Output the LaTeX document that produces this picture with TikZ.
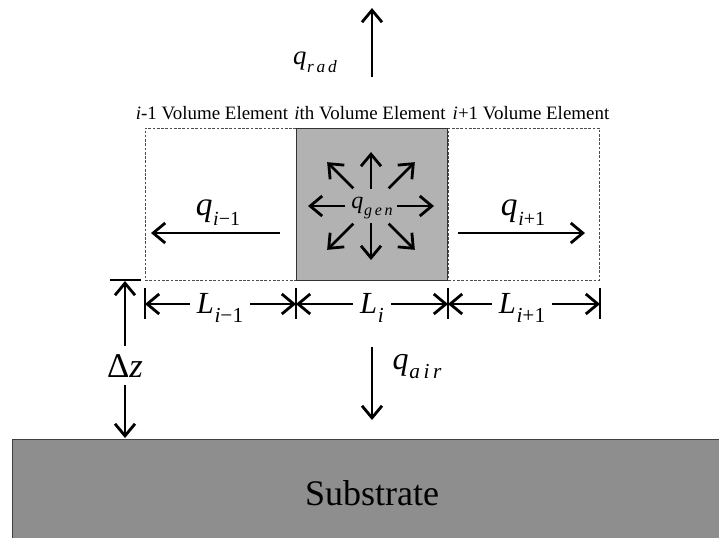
\documentclass[tikz,border=0pt]{standalone}
\usepackage{fontspec}
\setmainfont{Liberation Serif}
\usetikzlibrary{arrows.meta}
\definecolor{cellgray}{RGB}{178,178,178}
\definecolor{subgray}{RGB}{142,142,142}
\newcommand{\flux}[3][16]{\textit{#2}\kern0.5pt\raisebox{-0.3em}{\fontsize{#1}{#1}\selectfont #3}}
\tikzset{
  flow/.style={line width=2.1pt,-{Straight Barb[length=9pt,width=15pt]}},
  bar/.style={line width=2pt},
  cell/.style={minimum width=113.25pt,minimum height=114pt,inner sep=0pt,draw=black!80,line width=0.5pt},
  ghost/.style={cell,draw=black!70,dash pattern=on 2pt off 1.2pt},
  vlabel/.style={font=\fontsize{14.2}{16}\selectfont},
  big/.style={font=\fontsize{23}{26}\selectfont,anchor=base},
}
\begin{document}
\begin{tikzpicture}[x=0.75pt,y=-0.75pt]
\useasboundingbox (0,0) rectangle (719,537);
% substrate
\draw[fill=subgray,draw=black!75,line width=0.6pt] (12,439) rectangle (722,540);
\node[font=\fontsize{27}{30}\selectfont] (sub) at (372,493) {Substrate};
% volume elements
\node[ghost] (prev) at (220.5,204) {};
\node[ghost] (next) at (524,204) {};
\node[cell,fill=cellgray] (cur) at (372,204) {};
\node[vlabel] (lprev) at (212,113) {\textit{i}-1 Volume Element};
\node[vlabel] (lcur) at (370,113) {\textit{i}th Volume Element};
\node[vlabel] (lnext) at (531,113) {\textit{i}+1 Volume Element};
% radiation
\coordinate (radtail) at (372,77);
\coordinate (radtip) at (372,8);
\draw[flow] (radtail) -- (radtip);
\node[big,font=\fontsize{20}{22}\selectfont] (qrad) at (315,64) {\flux[13]{q}{\textit{r\,a\,d}}};
% conduction
\coordinate (cl0) at (280,233);
\coordinate (cl1) at (151,233);
\coordinate (cr0) at (458,233);
\coordinate (cr1) at (585,233);
\draw[flow] (cl0) -- (cl1);
\draw[flow] (cr0) -- (cr1);
\node[big,font=\fontsize{25}{28}\selectfont] (qprev) at (218,215) {\flux[15]{q}{\textit{i}−1}};
\node[big,font=\fontsize{25}{28}\selectfont] (qnext) at (523,215) {\flux[15]{q}{\textit{i}+1}};
% generation
\node[big,font=\fontsize{18}{20}\selectfont,inner sep=1pt] (qgen) at (372,208) {\flux[12]{q}{\textit{g\,e\,n}}};
\foreach \a/\r/\R in {0/26/63,45/25/62,90/17/54,135/25/62,180/26/63,225/25/62,270/17/54,315/25/62}
  \draw[flow] ([shift={(\a:\r)}]371,206) -- ([shift={(\a:\R)}]371,206);
% lengths
\foreach \x [count=\k from 0] in {145,296,448,600} {
  \coordinate (t\k) at (\x,304);
  \draw[bar] (\x,288) -- (\x,319);
}
\node[big,inner xsep=5pt] (Lprev) at (220,313) {\flux{L}{\textit{i}−1}};
\node[big,inner xsep=5pt] (Lcur) at (372,313) {\flux{L}{\textit{i}}};
\node[big,inner xsep=5pt] (Lnext) at (522,313) {\flux{L}{\textit{i}+1}};
\draw[flow] (Lprev.west |- t0) -- (t0);
\draw[flow] (Lprev.east |- t1) -- (t1);
\draw[flow] (Lcur.west |- t1) -- (t1);
\draw[flow] (Lcur.east |- t2) -- (t2);
\draw[flow] (Lnext.west |- t2) -- (t2);
\draw[flow] (Lnext.east |- t3) -- (t3);
% gap to substrate
\coordinate (dztop) at (125,281);
\coordinate (dzbot) at (125,438);
\draw[bar] (110,280) -- (141,280);
\node[big,font=\fontsize{26}{28}\selectfont,inner ysep=6pt] (dz) at (125,377) {Δ\textit{z}};
\draw[flow] (dz.north) -- (dztop);
\draw[flow] (dz.south) -- (dzbot);
% air
\coordinate (airtail) at (372,347);
\coordinate (airtip) at (372,420);
\draw[flow] (airtail) -- (airtip);
\node[big,font=\fontsize{24}{26}\selectfont] (qair) at (417,369) {\flux{q}{\textit{a\,i\,r}}};
\end{tikzpicture}
\end{document}
